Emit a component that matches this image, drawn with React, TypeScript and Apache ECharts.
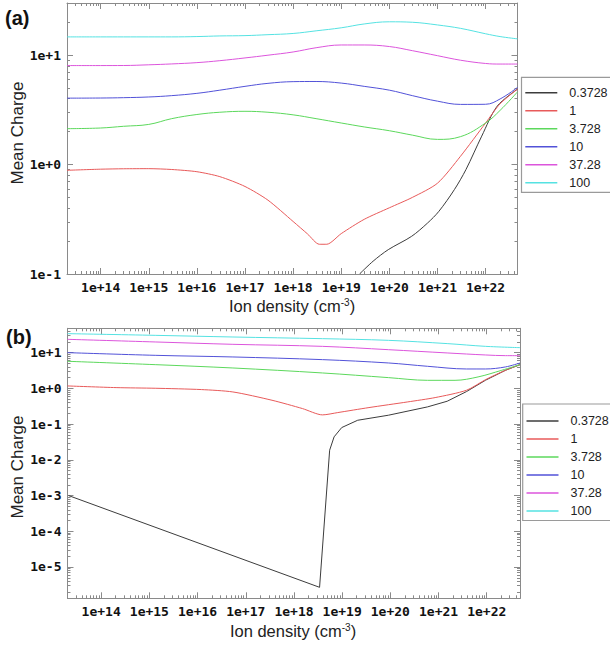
import React, { useEffect, useRef } from 'react';
import * as echarts from 'echarts';

// ---------- legend / series identity ----------
const seriesNames = ['0.3728', '1', '3.728', '10', '37.28', '100'];
const seriesColors = ['#3c3c3c', '#e85a5a', '#5cd85c', '#5252d8', '#dc55dc', '#55e2e2'];

// ---------- tick labels ----------
const xTickLabels = ['1e+14', '1e+15', '1e+16', '1e+17', '1e+18', '1e+19', '1e+20', '1e+21', '1e+22'];
const yTickLabelsA = ['1e-1', '1e+0', '1e+1'];
const yTickLabelsB = ['1e-5', '1e-4', '1e-3', '1e-2', '1e-1', '1e+0', '1e+1'];

// ---------- panel (a) ----------
const densA = [2e13, 1e14, 3e14, 1e15, 3e15, 1e16, 3e16, 1e17, 3e17, 1e18, 3e18, 1e19, 3e19, 1e20, 3e20, 1e21, 3e21, 1e22, 2e22, 4.6e22];
const a100 = [14.7, 14.7, 14.7, 14.7, 14.7, 14.8, 15.0, 15.1, 15.4, 15.8, 16.7, 17.8, 19.3, 20.2, 20.0, 18.9, 17.6, 15.7, 14.8, 14.1];
const a3728 = [8.04, 8.04, 8.05, 8.17, 8.32, 8.55, 8.91, 9.44, 10.0, 10.7, 11.7, 12.4, 12.4, 12.0, 11.0, 9.9, 9.0, 8.4, 8.3, 8.3];
const a10 = [4.05, 4.06, 4.09, 4.15, 4.27, 4.48, 4.79, 5.19, 5.53, 5.73, 5.75, 5.56, 5.19, 4.79, 4.27, 3.8, 3.55, 3.56, 3.98, 5.07];
const a3728s = [2.13, 2.16, 2.24, 2.33, 2.63, 2.87, 3.01, 3.07, 3.01, 2.85, 2.63, 2.4, 2.21, 2.04, 1.86, 1.7, 1.8, 2.4, 3.13, 4.62];
const densA1 = [2e13, 1e14, 3e14, 1e15, 3e15, 1e16, 3e16, 1e17, 3e17, 1e18, 2e18, 3.5e18, 5e18, 1e19, 3e19, 1e20, 3e20, 1e21, 3e21, 1e22, 2e22, 4.6e22];
const a1 = [0.887, 0.908, 0.916, 0.918, 0.902, 0.861, 0.776, 0.631, 0.473, 0.302, 0.232, 0.187, 0.187, 0.234, 0.316, 0.403, 0.501, 0.676, 1.19, 2.4, 3.6, 4.9];
const densA0 = [2.4e19, 4.6e19, 9.5e19, 2.9e20, 6.2e20, 1.07e21, 2.24e21, 3.9e21, 8.3e21, 1.74e22, 4.6e22];
const a0 = [0.1, 0.131, 0.167, 0.221, 0.292, 0.374, 0.59, 0.9, 1.82, 3.42, 4.9];

// ---------- panel (b) ----------
const densB100 = [2e13, 1.32e15, 5.4e16, 3.9e18, 9.1e19, 1.51e21, 9.5e21, 4.9e22];
const b100 = [34.0, 30.5, 27.4, 24.6, 22.1, 17.9, 15.0, 13.8];
const densB3728 = [2e13, 1.32e15, 5.4e16, 3.9e18, 9.1e19, 1.51e21, 9.5e21, 2.45e22, 4.9e22];
const b3728 = [23.6, 19.9, 17.1, 15.0, 12.1, 9.8, 8.6, 8.24, 8.24];
const densB10 = [2e13, 1.32e15, 5.4e16, 3.9e18, 9.1e19, 5.9e20, 3.8e21, 9.5e21, 2.45e22, 4.9e22];
const b10 = [10.0, 8.41, 7.57, 6.37, 5.14, 4.15, 3.49, 3.49, 3.98, 5.14];
const densB3 = [2e13, 1.32e15, 5.4e16, 3.9e18, 9.1e19, 5.9e20, 2.2e21, 6.6e21, 2.05e22, 4.9e22];
const b3 = [5.73, 4.61, 3.72, 2.7, 2.0, 1.68, 1.68, 2.09, 3.21, 4.61];
const densB1 = [2e13, 2.04e14, 1.32e15, 1.2e16, 5.4e16, 3.5e17, 1.5e18, 3.9e18, 8.1e18, 3.6e19, 2.3e20, 8.5e20, 3.8e21, 9.5e21, 2.45e22, 4.9e22];
const b1 = [1.17, 1.05, 1.007, 0.925, 0.794, 0.465, 0.272, 0.181, 0.21, 0.29, 0.418, 0.552, 0.885, 1.76, 3.21, 4.61];
const densB0 = [2.1e13, 3.4e18, 5.5e18, 6.8e18, 9.8e18, 2.1e19, 9.1e19, 5.9e20, 1.51e21, 3.8e21, 9.5e21, 2.45e22, 4.9e22];
const b0 = [1e-3, 2.7e-6, 0.0186, 0.0439, 0.08, 0.128, 0.177, 0.303, 0.436, 0.813, 1.7, 3.21, 4.61];

const AXIS_COLOR = '#8a8a8a';
const LABEL_FONT = 'DejaVu Sans Mono';
const TEXT_FONT = 'Liberation Sans, Arial, sans-serif';

function expLabel(v: number): string {
  const l = Math.log10(v);
  const e = Math.round(l);
  if (Math.abs(l - e) > 1e-6) return '';
  return '1e' + (e >= 0 ? '+' : '-') + Math.abs(e);
}

function logAxis(gridIndex: number, min: number, max: number, position: string, labels: string[] | null) {
  return {
    type: 'log',
    logBase: 10,
    gridIndex,
    min,
    max,
    position,
    axisLine: { show: true, lineStyle: { color: AXIS_COLOR, width: 1 } },
    axisTick: { show: true, inside: true, length: 6, lineStyle: { color: AXIS_COLOR, width: 1 } },
    minorTick: { show: true, splitNumber: 9, length: 3, lineStyle: { color: AXIS_COLOR, width: 1 } },
    splitLine: { show: false },
    minorSplitLine: { show: false },
    axisLabel: labels
      ? {
          show: true,
          margin: position === 'bottom' ? 7 : 6,
          color: '#111',
          fontFamily: LABEL_FONT,
          fontWeight: 'bold',
          fontSize: 13,
          formatter: (v: number) => {
            const s = expLabel(v);
            return labels.indexOf(s) >= 0 ? s : '';
          },
        }
      : { show: false },
  };
}

function pairs(xs: number[], ys: number[]) {
  return xs.map((x, i) => [x, ys[i]]);
}

function lineSeries(nameIdx: number, axisIdx: number, xs: number[], ys: number[], smooth: number | boolean) {
  return {
    type: 'line',
    name: seriesNames[nameIdx],
    xAxisIndex: axisIdx,
    yAxisIndex: axisIdx,
    data: pairs(xs, ys),
    symbol: 'none',
    showSymbol: false,
    smooth,
    clip: true,
    lineStyle: { color: seriesColors[nameIdx], width: 1 },
    itemStyle: { color: seriesColors[nameIdx] },
    emphasis: { disabled: true },
  };
}

function legendAt(left: number, top: number, padTop: number) {
  return {
    orient: 'vertical',
    left,
    top,
    data: seriesNames,
    itemWidth: 32,
    itemHeight: 14,
    itemGap: 5,
    padding: [padTop, 40, 3, 3],
    borderColor: '#9a9a9a',
    borderWidth: 1.2,
    backgroundColor: '#ffffff',
    selectedMode: false,
    itemStyle: { opacity: 0 },
    lineStyle: { width: 1.6 },
    textStyle: { fontFamily: TEXT_FONT, fontSize: 12.5, color: '#222', padding: [0, 0, 0, 7] },
  };
}

function titleText(x: number, y: number, label: string) {
  return {
    type: 'text',
    x,
    y,
    style: { text: label, fontFamily: TEXT_FONT, fontWeight: 'bold', fontSize: 20, fill: '#111', align: 'left', verticalAlign: 'middle' },
  };
}

function yName(y: number) {
  return {
    type: 'text',
    x: 17,
    y,
    rotation: Math.PI / 2,
    style: { text: 'Mean Charge', fontFamily: TEXT_FONT, fontSize: 17, fill: '#222', align: 'center', verticalAlign: 'middle' },
  };
}

function xName(x: number, y: number) {
  return {
    type: 'text',
    x,
    y,
    style: {
      text: '{a|Ion density (cm}{s|-3}{a|)}',
      align: 'center',
      verticalAlign: 'middle',
      rich: {
        a: { fontFamily: TEXT_FONT, fontSize: 16.5, fill: '#222', color: '#222' },
        s: { fontFamily: TEXT_FONT, fontSize: 10, fill: '#222', color: '#222', verticalAlign: 'top' },
      },
    },
  };
}

export default function App() {
  const ref = useRef<HTMLDivElement>(null);

  useEffect(() => {
    if (!ref.current) return;
    const chart = echarts.init(ref.current, null, { renderer: 'svg' });
    const option: any = {
      animation: false,
      backgroundColor: '#ffffff',
      grid: [
        { left: 67, top: 3, width: 450.5, height: 271 },
        { left: 67.5, top: 328.3, width: 452.5, height: 270 },
      ],
      xAxis: [
        logAxis(0, 2e13, 4.6e22, 'bottom', xTickLabels),
        logAxis(1, 2e13, 4.9e22, 'bottom', xTickLabels),
        logAxis(0, 2e13, 4.6e22, 'top', null),
        logAxis(1, 2e13, 4.9e22, 'top', null),
      ],
      yAxis: [
        logAxis(0, 0.1, 30, 'left', yTickLabelsA),
        logAxis(1, 1.33e-6, 48, 'left', yTickLabelsB),
        logAxis(0, 0.1, 30, 'right', null),
        logAxis(1, 1.33e-6, 48, 'right', null),
      ],
      legend: [legendAt(521.5, 77.3, 9), legendAt(522.7, 404, 10.5)],
      series: [
        lineSeries(0, 0, densA0, a0, 0.3),
        lineSeries(1, 0, densA1, a1, 0.25),
        lineSeries(2, 0, densA, a3728s, 0.4),
        lineSeries(3, 0, densA, a10, 0.4),
        lineSeries(4, 0, densA, a3728, 0.4),
        lineSeries(5, 0, densA, a100, 0.4),
        lineSeries(0, 1, densB0, b0, false),
        lineSeries(1, 1, densB1, b1, 0.25),
        lineSeries(2, 1, densB3, b3, 0.35),
        lineSeries(3, 1, densB10, b10, 0.35),
        lineSeries(4, 1, densB3728, b3728, 0.35),
        lineSeries(5, 1, densB100, b100, 0.35),
      ],
      graphic: [
        titleText(5, 18, '(a)'),
        titleText(6, 337, '(b)'),
        yName(133),
        yName(467),
        xName(292, 306),
        xName(293, 631),
      ],
    };
    chart.setOption(option);
    return () => chart.dispose();
  }, []);

  return (
    <div
      ref={ref}
      style={{ position: 'absolute', left: 0, top: 0, width: 610, height: 648, background: '#fff' }}
    />
  );
}
